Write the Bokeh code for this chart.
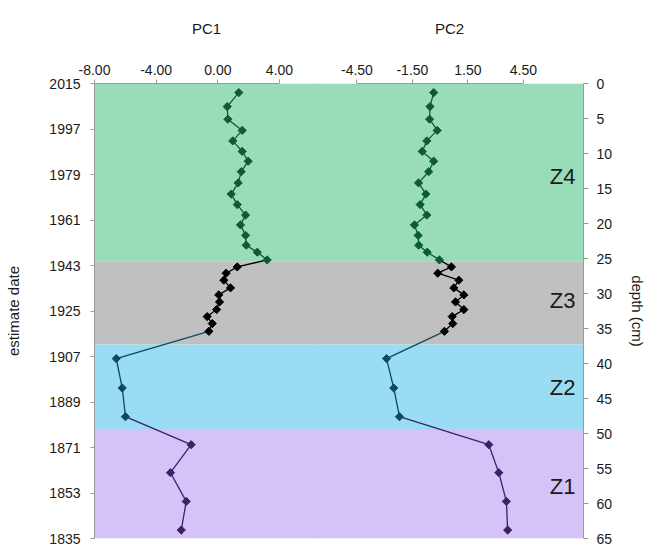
import numpy as np
from bokeh.plotting import figure
from bokeh.models import (Range1d, LinearAxis, FixedTicker, NumeralTickFormatter,
                          BoxAnnotation, ColumnDataSource)
from bokeh.layouts import row
from bokeh.embed import file_html
from bokeh.resources import INLINE
from bokeh.core.properties import value

# ---------------- data ----------------
depth = [1.3, 3.3, 5.1, 6.7, 8.2, 9.7, 11.1, 12.6, 14.2, 15.8, 17.3, 18.8, 20.2, 21.7, 23.1, 24.1, 25.2,
         26.2, 27.1, 28.1, 29.2, 30.2, 31.2, 32.3, 33.3, 34.3, 35.4,
         39.3, 43.5, 47.6,
         51.6, 55.6, 59.7, 63.8]
pc1 = [1.36, 0.61, 0.65, 1.58, 0.97, 1.58, 1.97, 1.52, 1.32, 0.87, 1.26, 1.80, 1.47, 1.80, 1.84, 2.56, 3.20,
       1.26, 0.54, 0.39, 0.82, 0.06, 0.11, -0.08, -0.69, -0.36, -0.58,
       -6.59, -6.20, -5.99,
       -1.73, -3.07, -2.05, -2.37]
pc2 = [-0.35, -0.55, -0.57, -0.16, -0.72, -0.97, -0.35, -0.62, -1.17, -0.77, -1.08, -0.72, -1.39, -1.19, -1.16, -0.70, -0.04,
       0.61, -0.13, 1.01, 0.74, 1.28, 0.83, 1.28, 0.65, 0.68, 0.23,
       -2.90, -2.51, -2.20,
       2.63, 3.17, 3.58, 3.65]

zone_names = ["Z4", "Z3", "Z2", "Z1"]
zone_top = [0, 25.4, 37.3, 49.5]
zone_bottom = [25.4, 37.3, 49.5, 65]
zone_label_depth = [13.3, 31.0, 43.4, 57.6]
zone_fill = ["#99dcb9", "#c0c0c0", "#99dcf4", "#d5c3f8"]
zone_marker = ["#0d5c30", "#000000", "#0c4a5e", "#3b2268"]

date_ticks = [2015, 1997, 1979, 1961, 1943, 1925, 1907, 1889, 1871, 1853, 1835]
depth_ticks = [0, 5, 10, 15, 20, 25, 30, 35, 40, 45, 50, 55, 60, 65]
pc1_ticks = [-8, -4, 0, 4]
pc2_ticks = [-4.5, -1.5, 1.5, 4.5]

# ---------------- styling ----------------
FONT = "Liberation Sans"
TXT = "#1a1a1a"
AX = "#9a9a9a"
FRAME_H = 455
TOP = 83
BOTTOM = 8
OVERLAP = 3


def zone_of(d):
    for i, b in enumerate(zone_bottom):
        if d <= b:
            return i
    return len(zone_bottom) - 1


point_col = [zone_marker[zone_of(d)] for d in depth]


def style_axis(ax):
    ax.axis_line_color = AX
    ax.major_tick_line_color = AX
    ax.minor_tick_line_color = None
    ax.major_tick_in = 0
    ax.major_tick_out = 4
    ax.major_label_text_font = FONT
    ax.major_label_text_font_size = "14px"
    ax.major_label_text_color = TXT
    ax.axis_label_text_font = FONT
    ax.axis_label_text_font_size = "15px"
    ax.axis_label_text_font_style = "normal"
    ax.axis_label_text_color = TXT


def make_fig(vals, xr, bounds, ticks, title, fw, mbl, mbr, fill):
    p = figure(frame_width=fw, frame_height=FRAME_H,
               x_range=Range1d(*xr), y_range=Range1d(65, 0),
               x_axis_location="above", y_axis_location=None,
               output_backend="svg", toolbar_location=None,
               min_border=0,
               min_border_top=TOP, min_border_bottom=BOTTOM,
               min_border_left=mbl, min_border_right=mbr,
               background_fill_color=fill, border_fill_color=fill)
    p.outline_line_color = None
    p.grid.visible = False
    for t, b, c in zip(zone_top, zone_bottom, zone_fill):
        p.add_layout(BoxAnnotation(top=t, bottom=b, fill_color=c, fill_alpha=1.0,
                                   line_color=None, level="underlay"))
    ax = p.xaxis[0]
    ax.ticker = FixedTicker(ticks=ticks)
    ax.formatter = NumeralTickFormatter(format="0.00")
    ax.bounds = bounds
    ax.axis_label = title
    style_axis(ax)
    ax.major_label_standoff = 5
    ax.axis_label_standoff = 25

    seg = ColumnDataSource(dict(x0=vals[:-1], y0=depth[:-1], x1=vals[1:], y1=depth[1:],
                                c=point_col[1:]))
    p.segment(x0="x0", y0="y0", x1="x1", y1="y1", line_color="c", line_width=1.3, source=seg)
    pts = ColumnDataSource(dict(x=vals, y=depth, c=point_col))
    p.scatter(x="x", y="y", source=pts, marker="square", angle=np.pi / 4, size=5.8,
              fill_color="c", line_color="c")
    return p


# PC1 panel
p1 = make_fig(pc1, (-8.0, 6.53), (-8, 4), pc1_ticks, "PC1", 224, 94, 0, "white")
p1.extra_y_ranges = {"date": Range1d(start=1835, end=2015)}
yl = LinearAxis(y_range_name="date", ticker=FixedTicker(ticks=date_ticks),
                formatter=NumeralTickFormatter(format="0"), axis_label="estimate date")
style_axis(yl)
yl.major_label_standoff = 10
yl.axis_label_standoff = 24
p1.add_layout(yl, "left")

# PC2 panel (overlaps the first by a few pixels so the bands are seamless)
p2 = make_fig(pc2, (-6.74, 7.75), (-4.5, 4.5), pc2_ticks, "PC2", 265 + OVERLAP, 0, 62, None)
p2.margin = (0, 0, 0, -OVERLAP)
yr = LinearAxis(ticker=FixedTicker(ticks=depth_ticks), axis_label="depth (cm)")
style_axis(yr)
yr.major_tick_out = 5
yr.major_label_standoff = 8
yr.axis_label_standoff = 14
p2.add_layout(yr, "right")

zsrc = ColumnDataSource(dict(x=[7.32] * len(zone_names), y=zone_label_depth, t=zone_names))
p2.text(x="x", y="y", text="t", source=zsrc, text_align="right", text_baseline="middle",
        text_font=value(FONT), text_font_size="22px", text_color=TXT)

layout = row(p1, p2, spacing=0)
open("out.html", "w").write(file_html(layout, INLINE))
